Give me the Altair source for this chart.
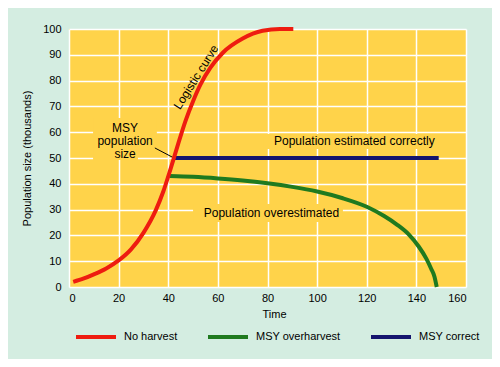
import altair as alt
import pandas as pd

# ---- data ----
red_x = [1.7, 6.0, 10.0, 15.0, 20.0, 25.0, 30.0, 35.0, 38.0, 41.0, 44.0, 47.0, 50.0, 53.0, 57.0, 62.0, 70.0, 78.0, 85.0, 90.4]
red_y = [2.0, 3.3, 4.9, 7.2, 10.3, 14.6, 21.0, 29.8, 37.0, 46.0, 55.5, 64.5, 72.0, 78.5, 85.0, 90.8, 96.3, 99.3, 100.0, 100.0]

green_x = [40.5, 50.0, 60.0, 70.0, 80.0, 90.0, 100.0, 110.0, 120.0, 127.0, 132.0, 137.0, 141.0, 144.0, 146.0, 147.3, 148.2]
green_y = [43.0, 42.7, 42.1, 41.3, 40.2, 38.8, 37.0, 34.5, 31.1, 27.5, 24.3, 20.3, 15.6, 11.0, 7.0, 4.0, 0.0]

navy_x = [42.0, 149.0]
navy_y = [50.0, 50.0]

series_names = ["No harvest", "MSY overharvest", "MSY correct"]
series_colors = ["#ee1c10", "#1f7a1f", "#15156e"]

x_ticks = [0, 20, 40, 60, 80, 100, 120, 140, 160]
y_ticks = [0, 10, 20, 30, 40, 50, 60, 70, 80, 90, 100]

# annotation texts
note_text = ["MSY", "population", "size", "Population estimated correctly", "Population overestimated"]
note_x = [22.6, 22.6, 22.6, 115.0, 81.6]
note_y = [61.8, 56.5, 51.6, 56.5, 28.7]

curve_label = ["Logistic curve"]
curve_label_x = [51.2]
curve_label_y = [81.4]

leader_x = [34.6]
leader_y = [53.9]
leader_x2 = [41.9]
leader_y2 = [50.2]

# label background boxes (break the grid behind labels)
box_x = [9.7, 9.7, 78.5, 50.0]
box_x2 = [35.4, 27.8, 150.0, 110.4]
box_y = [65.5, 53.9, 59.3, 32.2]
box_y2 = [53.1, 49.2, 53.5, 25.2]

# ---- tables ----
lines_df = pd.concat([
    pd.DataFrame({"x": green_x, "y": green_y, "series": series_names[1]}),
    pd.DataFrame({"x": navy_x, "y": navy_y, "series": series_names[2]}),
    pd.DataFrame({"x": red_x, "y": red_y, "series": series_names[0]}),
], ignore_index=True)

notes_df = pd.DataFrame({"text": note_text, "x": note_x, "y": note_y})
curve_df = pd.DataFrame({"text": curve_label, "x": curve_label_x, "y": curve_label_y})
leader_df = pd.DataFrame({"x": leader_x, "y": leader_y, "x2": leader_x2, "y2": leader_y2})
box_df = pd.DataFrame({"x": box_x, "x2": box_x2, "y": box_y, "y2": box_y2})

FONT = "Liberation Sans"
YELLOW = "#ffd34a"

xscale = alt.Scale(domain=[0, 160], nice=False)
yscale = alt.Scale(domain=[0, 100], nice=False)

xaxis = alt.Axis(values=x_ticks, grid=True, gridColor="white", gridWidth=1.5, gridOpacity=1,
                 ticks=False, domain=False, labelFontSize=11, labelFont=FONT, labelColor="black",
                 labelPadding=5, labelOverlap=False, title="Time", titleFont=FONT, titleFontSize=11,
                 titleFontWeight="normal", titleColor="black", titlePadding=5, titleX=205)
yaxis = alt.Axis(values=y_ticks, grid=True, gridColor="white", gridWidth=1.5, gridOpacity=1,
                 ticks=False, domain=False, labelFontSize=11, labelFont=FONT, labelColor="black",
                 labelPadding=8, labelOverlap=False, title="Population size (thousands)",
                 titleFont=FONT, titleFontSize=11, titleFontWeight="normal", titleColor="black",
                 titlePadding=10)

X = alt.X("x:Q", scale=xscale, axis=xaxis)
Y = alt.Y("y:Q", scale=yscale, axis=yaxis)

boxes = alt.Chart(box_df).mark_rect(color=YELLOW).encode(x=X, x2="x2:Q", y=Y, y2="y2:Q")

lines = alt.Chart(lines_df).mark_line(strokeWidth=4, interpolate="monotone", strokeCap="butt").encode(
    x=X, y=Y,
    color=alt.Color("series:N",
                    scale=alt.Scale(domain=series_names, range=series_colors),
                    legend=alt.Legend(title=None, orient="none", legendX=5, legendY=286,
                                      direction="horizontal", symbolType="stroke",
                                      symbolSize=1600, symbolStrokeWidth=4,
                                      labelFontSize=11, labelFont=FONT, labelColor="black",
                                      columnPadding=22, labelOffset=6, padding=0)),
    detail="series:N",
    order=alt.Order("x:Q"),
)

notes = alt.Chart(notes_df).mark_text(font=FONT, fontSize=12, color="black", baseline="middle",
                                      align="center").encode(x=X, y=Y, text="text:N")

curve_text = alt.Chart(curve_df).mark_text(font=FONT, fontSize=12, color="black", baseline="middle",
                                           align="center", angle=302).encode(x=X, y=Y, text="text:N")

leader = alt.Chart(leader_df).mark_rule(color="black", strokeWidth=1).encode(
    x=X, y=Y, x2="x2:Q", y2="y2:Q")

chart = alt.layer(boxes, leader, lines, notes, curve_text).properties(
    width=397, height=258,
    padding={"left": 61, "top": 21, "right": 26, "bottom": 72},
    autosize=alt.AutoSizeParams(type="none"),
    background="#d4ede1",
).configure_view(fill=YELLOW, strokeWidth=0)

chart.save("out.html", embed_options={"renderer": "svg", "actions": False})
